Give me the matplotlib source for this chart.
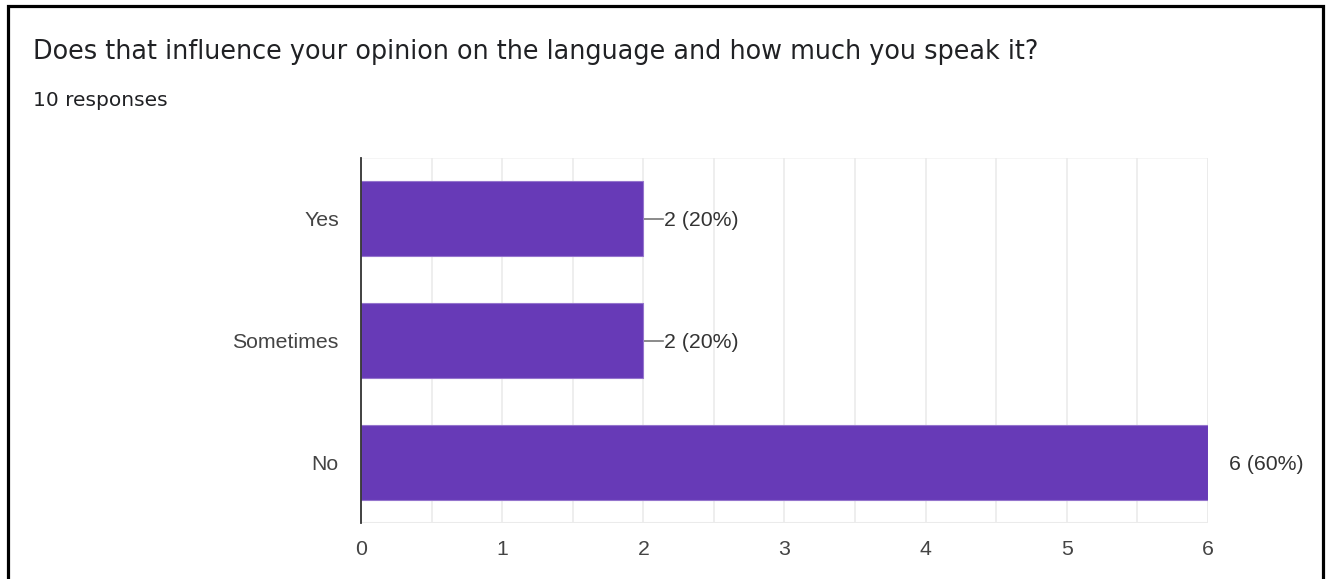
import matplotlib
matplotlib.use('Agg')
import matplotlib.pyplot as plt
from matplotlib.patches import Rectangle
from matplotlib.ticker import MultipleLocator

title = 'Does that influence your opinion on the language and how much you speak it?'
subtitle = '10 responses'
answers = ['Yes', 'Sometimes', 'No']
counts = [2, 2, 6]
total = 10

W, H = 1330, 579
fig = plt.figure(figsize=(W / 100, H / 100), dpi=100)
fig.patch.set_facecolor('white')

# black frame around the card (bottom edge runs off the image)
fig.patches.append(Rectangle((7.5 / W, -0.05), (1322.5 - 7.5) / W, 1.05 - 5.5 / H,
                             transform=fig.transFigure, fill=False,
                             edgecolor='black', linewidth=2.3))

fig.text(33 / W, 1 - 52 / H, title, fontsize=18.4, family='DejaVu Sans',
         color='#202124', va='center', ha='left')
fig.text(33 / W, 1 - 101 / H, subtitle, fontsize=14.5, family='DejaVu Sans',
         color='#202124', va='center', ha='left')

ax = fig.add_axes([361 / W, 1 - 523 / H, (1208 - 361) / W, (523 - 158) / H])
ypos = list(range(len(answers)))
ax.barh(ypos, counts, height=0.615, color='#673ab7', edgecolor='#9575cd',
        linewidth=0.8, zorder=3)
ax.set_xlim(0, 6)
ax.set_ylim(len(answers) - 0.5, -0.5)

ax.set_yticks(ypos)
ax.set_yticklabels(answers)
ax.xaxis.set_major_locator(MultipleLocator(1))
ax.xaxis.set_minor_locator(MultipleLocator(0.5))
ax.grid(True, which='both', axis='x', color='#ebebeb', linewidth=1.2, zorder=0)
ax.tick_params(axis='both', which='both', length=0, labelsize=15.3,
               labelcolor='#444444', labelfontfamily='Liberation Sans')
ax.tick_params(axis='x', pad=12)
ax.tick_params(axis='y', pad=16)

for s in ['top', 'right', 'bottom']:
    ax.spines[s].set_visible(False)
ax.spines['left'].set_color('#333333')
ax.spines['left'].set_linewidth(1.3)
ax.spines['left'].set_zorder(4)
ax.axhline(len(answers) - 0.5, color='#ebebeb', linewidth=1.5, zorder=0)
ax.axhline(-0.5, color='#f3f3f3', linewidth=1.2, zorder=0)
ax.axvline(6, color='#ebebeb', linewidth=1.2, zorder=0)

# value labels with a short leader line from the end of each bar
dx = 20 / (1208 - 361) * 6
for y, c in zip(ypos, counts):
    ax.plot([c, c + dx], [y, y], color='#777777', linewidth=1.2, zorder=2,
            clip_on=True)
    ax.text(c + dx * 1.05, y, '%d (%d%%)' % (c, round(100 * c / total)),
            fontsize=15.3, family='Liberation Sans', color='#333333',
            va='center_baseline', ha='left', clip_on=False)

fig.savefig('out.png', dpi=100)
